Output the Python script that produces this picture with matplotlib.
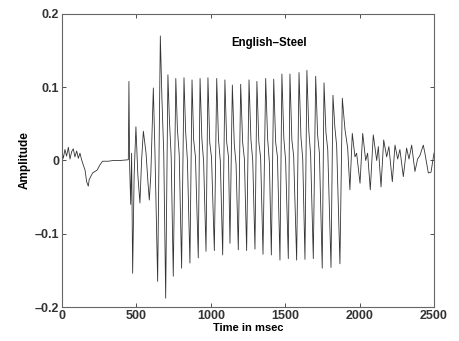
import numpy as np
import matplotlib
matplotlib.use("Agg")
import matplotlib.pyplot as plt
from matplotlib.ticker import FuncFormatter

# --- onset noise and dip (0-450 ms) ---
onset_ms = [0, 9, 20, 31, 43, 54, 65, 76, 87, 99, 110, 121, 132, 143, 155, 166,
            177, 183, 193, 206, 222, 237, 255, 273, 289, 311, 345, 390, 446]
onset_amp = [0.012, 0.003, 0.015, 0.006, 0.018, 0.002, 0.012, 0.016, 0.005, 0.013,
             0.003, 0.010, 0.001, -0.006, -0.013, -0.029, -0.035, -0.026, -0.022,
             -0.017, -0.015, -0.013, -0.006, -0.001, -0.001, -0.001, 0.000, 0.000, 0.001]

# --- irregular transient (450-645 ms) ---
trans_ms = [450, 455, 462, 468, 475, 485, 497, 510, 524, 535, 547, 565, 578, 587,
            597, 614, 625, 643]
trans_amp = [0.108, -0.010, -0.060, 0.010, -0.154, -0.020, 0.046, -0.020, -0.058,
             0.000, 0.040, 0.010, -0.030, -0.054, -0.020, 0.099, 0.010, -0.165]

# --- sustained cycles (peak -> bump -> dip -> trough) ---
peak_ms = [661, 712, 765, 820, 874, 928, 981, 1040, 1095, 1145, 1201, 1257, 1310,
           1369, 1423, 1478, 1532, 1593, 1646, 1705, 1761, 1821, 1884]
peak_amp = [0.170, 0.117, 0.112, 0.113, 0.110, 0.112, 0.113, 0.112, 0.110, 0.103,
            0.104, 0.110, 0.108, 0.112, 0.111, 0.118, 0.118, 0.120, 0.123, 0.115,
            0.106, 0.089, 0.085]
bump_ms = [672, 722, 776, 831, 885, 940, 993, 1052, 1107, 1158, 1214, 1270, 1323,
           1382, 1436, 1491, 1545, 1606, 1659, 1718, 1774, 1834]
bump_amp = [0.083, 0.055, 0.042, 0.040, 0.028, 0.030, 0.025, 0.028, 0.025, 0.022,
            0.025, 0.028, 0.025, 0.030, 0.025, 0.030, 0.028, 0.032, 0.040, 0.035,
            0.038, 0.045]
dip_ms = [684, 734, 788, 843, 897, 952, 1005, 1064, 1119, 1170, 1226, 1282, 1335,
          1394, 1448, 1503, 1557, 1618, 1671, 1730, 1786, 1846]
dip_amp = [0.010, 0.005, 0.008, 0.000, 0.005, -0.002, 0.004, 0.000, 0.005, -0.005,
           0.002, 0.000, 0.004, -0.003, 0.005, 0.000, 0.006, 0.002, 0.008, 0.010,
           0.015, 0.020]
trough_ms = [697, 748, 804, 860, 916, 968, 1024, 1080, 1129, 1185, 1241, 1297, 1351,
             1407, 1465, 1521, 1577, 1633, 1689, 1749, 1808, 1868]
trough_amp = [-0.188, -0.158, -0.147, -0.140, -0.133, -0.124, -0.123, -0.129, -0.113,
              -0.122, -0.123, -0.121, -0.128, -0.129, -0.136, -0.134, -0.136, -0.135,
              -0.134, -0.147, -0.146, -0.141]

# --- decaying tail (1900-2500 ms) ---
decay_ms = [1902, 1920, 1935, 1951, 1969, 1980, 2003, 2021, 2041, 2054, 2072, 2092,
            2115, 2126, 2144, 2162, 2182, 2197, 2220, 2238, 2256, 2271, 2294, 2316,
            2332, 2350, 2372, 2390, 2406, 2428, 2439, 2462, 2480, 2500]
decay_amp = [0.042, 0.017, -0.040, 0.037, 0.005, 0.010, -0.031, 0.037, 0.000, 0.010,
             -0.040, 0.035, 0.000, 0.019, -0.036, 0.028, 0.005, 0.019, -0.029, 0.021,
             0.002, 0.015, -0.022, 0.017, 0.002, 0.021, -0.015, 0.002, 0.007, 0.021,
             0.010, -0.017, -0.016, 0.010]

# stitch the sustained cycles into one trace
cyc_t, cyc_a = [], []
for i in range(len(peak_ms)):
    cyc_t.append(peak_ms[i]); cyc_a.append(peak_amp[i])
    if i < len(trough_ms):
        cyc_t += [bump_ms[i], dip_ms[i], trough_ms[i]]
        cyc_a += [bump_amp[i], dip_amp[i], trough_amp[i]]

t = np.array(onset_ms + trans_ms + cyc_t + decay_ms)
a = np.array(onset_amp + trans_amp + cyc_a + decay_amp)

plt.rcParams['font.family'] = ['Liberation Sans', 'DejaVu Sans']
plt.rcParams['font.weight'] = 'bold'

fig = plt.figure(figsize=(4.59, 3.41), dpi=100)
ax = fig.add_axes([0.135, 0.0997, 0.8105, 0.8593])
ax.plot(t, a, color='#333333', lw=0.6)

ax.set_xlim(0, 2500)
ax.set_ylim(-0.2, 0.2)
ax.set_xticks([0, 500, 1000, 1500, 2000, 2500])
ax.set_yticks([-0.2, -0.1, 0, 0.1, 0.2])
ax.yaxis.set_major_formatter(FuncFormatter(lambda v, p: '0' if abs(v) < 1e-9 else f'{v:g}'.replace('-', '\u2013')))
ax.tick_params(direction='in', top=True, right=True, labelsize=9, length=3, width=0.6,
               colors='#333333', pad=2)
for s in ax.spines.values():
    s.set_color('#666666')
    s.set_linewidth(0.8)

ax.set_xlabel('Time in msec', fontsize=8, fontweight='bold', labelpad=1)
ax.set_ylabel('Amplitude', fontsize=8.5, fontweight='bold', labelpad=3)
ax.text(1136, 0.161, 'English\u2013Steel', fontsize=8.3, fontweight='bold', va='center', ha='left')

fig.savefig('out.png', dpi=100)
